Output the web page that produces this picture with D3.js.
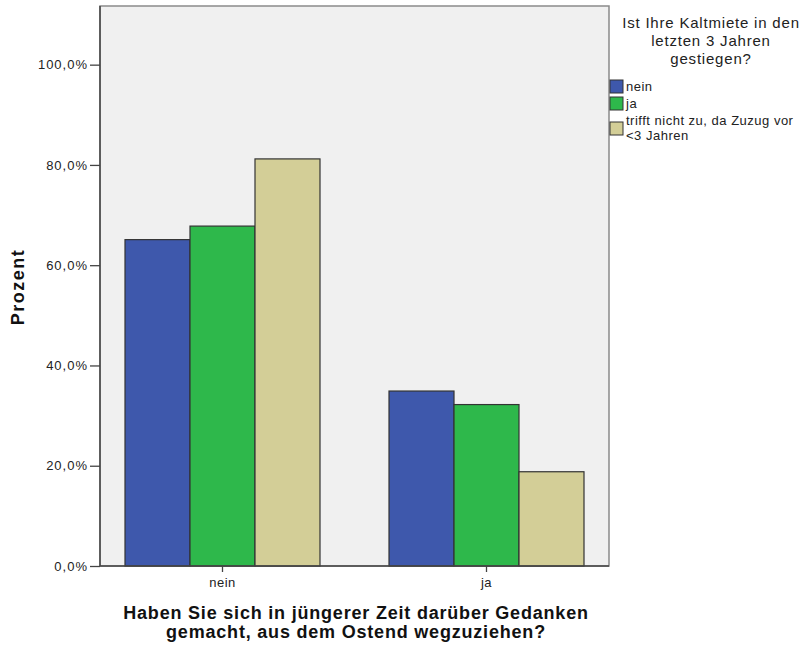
<!DOCTYPE html>
<html><head><meta charset="utf-8">
<script src="https://cdn.jsdelivr.net/npm/d3@7"></script>
<style>body{margin:0;background:#fff}text{font-family:"Liberation Sans",Arial,sans-serif}</style>
</head><body><svg id="c" width="803" height="645"></svg>
<script>
const categories = ["nein", "ja"];
const seriesNames = ["nein", "ja", "trifft nicht zu, da Zuzug vor <3 Jahren"];
const valuesNein = [65.1, 67.8, 81.2];
const valuesJa = [34.9, 32.2, 18.8];
const yTicks = [0, 20, 40, 60, 80, 100];
const colors = ["#3E58AC", "#2EB84B", "#D3CE97"];
const legendTitle = ["Ist Ihre Kaltmiete in den", "letzten 3 Jahren", "gestiegen?"];
const xTitle = ["Haben Sie sich in jüngerer Zeit darüber Gedanken", "gemacht, aus dem Ostend wegzuziehen?"];

const data = categories.map((c, i) => ({cat: c, vals: (i === 0 ? valuesNein : valuesJa)}));
const svg = d3.select("#c");
const L = 100, R = 609, T = 6, B = 566;

const x = d3.scaleBand().domain(categories).range([L, R]).paddingInner(0.2614).paddingOuter(0.0947);
const xs = d3.scaleBand().domain(d3.range(seriesNames.length)).range([0, x.bandwidth()]);
const y = d3.scaleLinear().domain([0, 111.7]).range([B, T]);

svg.append("rect").attr("x", L).attr("y", T).attr("width", R - L).attr("height", B - T)
  .attr("fill", "#F0F0F0").attr("stroke", "#8a8a8a").attr("stroke-width", 1.5);

const g = svg.append("g");
data.forEach(d => {
  g.selectAll(null).data(d.vals).enter().append("rect")
    .attr("x", (v, i) => x(d.cat) + xs(i))
    .attr("y", v => y(v))
    .attr("width", xs.bandwidth())
    .attr("height", v => B - y(v))
    .attr("fill", (v, i) => colors[i])
    .attr("stroke", "#333").attr("stroke-width", 1.2);
});

const yAxis = svg.append("g").attr("transform", `translate(${L},0)`)
  .call(d3.axisLeft(y).tickValues(yTicks).tickSize(10).tickPadding(2)
    .tickFormat(v => v.toFixed(1).replace(".", ",") + "%"));
yAxis.select(".domain").attr("stroke", "#444").attr("stroke-width", 1.5).attr("d", `M0,${T}V${B}`);
yAxis.selectAll(".tick line").attr("stroke", "#444").attr("stroke-width", 1.3);
yAxis.selectAll(".tick text").attr("font-size", 13).attr("letter-spacing", 1).attr("fill", "#222").attr("font-family", "Liberation Sans, Arial");

const xAxis = svg.append("g").attr("transform", `translate(0,${B})`)
  .call(d3.axisBottom(x).tickSize(6).tickPadding(6));
xAxis.select(".domain").attr("stroke", "#444").attr("stroke-width", 1.5).attr("d", `M${L},0H${R}`);
xAxis.selectAll(".tick line").attr("stroke", "#444").attr("stroke-width", 1.3);
xAxis.selectAll(".tick text").attr("font-size", 13).attr("letter-spacing", 0.5).attr("fill", "#222").attr("font-family", "Liberation Sans, Arial");

svg.append("text").attr("transform", "translate(24,287) rotate(-90)").attr("text-anchor", "middle")
  .attr("font-size", 18).attr("letter-spacing", 1.5).attr("font-weight", "bold").attr("fill", "#111").text("Prozent");

svg.append("text").attr("x", 356).attr("text-anchor", "middle").attr("font-size", 18).attr("letter-spacing", 0.8).attr("font-weight", "bold").attr("fill", "#111")
  .selectAll("tspan").data(xTitle).enter().append("tspan").attr("x", 356).attr("y", (d, i) => 619 + i * 19).text(d => d);

const lg = svg.append("g");
lg.append("text").attr("text-anchor", "middle").attr("font-size", 15).attr("letter-spacing", 0.8).attr("fill", "#222")
  .selectAll("tspan").data(legendTitle).enter().append("tspan").attr("x", 711).attr("y", (d, i) => 28 + i * 18).text(d => d);
const legendY = [80, 97, 122];
seriesNames.forEach((s, i) => {
  lg.append("rect").attr("x", 610).attr("y", legendY[i]).attr("width", 13).attr("height", 13)
    .attr("fill", colors[i]).attr("stroke", "#333").attr("stroke-width", 1);
});
lg.append("text").attr("x", 626).attr("y", legendY[0] + 11).attr("font-size", 13).attr("letter-spacing", 0.5).attr("fill", "#222").text(seriesNames[0]);
lg.append("text").attr("x", 626).attr("y", legendY[1] + 11).attr("font-size", 13).attr("letter-spacing", 0.5).attr("fill", "#222").text(seriesNames[1]);
const parts = ["trifft nicht zu, da Zuzug vor", "<3 Jahren"];
parts.forEach((p, i) => {
  lg.append("text").attr("x", 626).attr("y", 125 + i * 15).attr("font-size", 13).attr("letter-spacing", 0.5).attr("fill", "#222").text(p);
});
</script></body></html>
